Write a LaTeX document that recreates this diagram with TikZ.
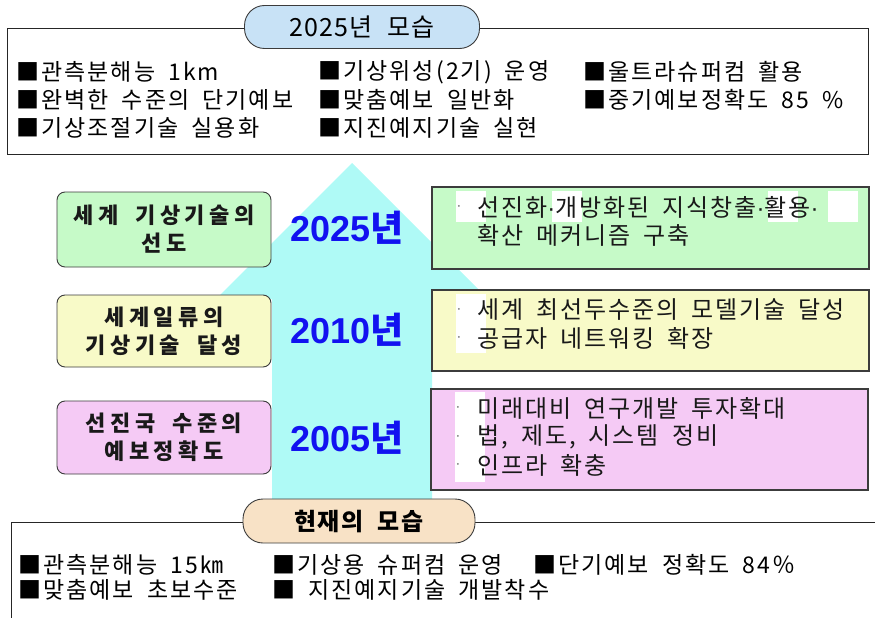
\documentclass[tikz,border=0pt]{standalone}
\usepackage{fontspec}
\setmainfont{Noto Sans CJK KR}
\newfontfamily\kr{Noto Sans CJK KR}
\newfontfamily\kritem[LetterSpace=9,WordSpace=1.8]{Noto Sans CJK KR}
\newfontfamily\krsp[LetterSpace=8,WordSpace=1.8]{Noto Sans CJK KR}
\newfontfamily\krlb[LetterSpace=20,WordSpace=1.8]{Noto Sans CJK KR}
\newfontfamily\krpill[LetterSpace=5,WordSpace=2.2]{Noto Sans CJK KR}
\newfontfamily\arialf{Liberation Sans}
\definecolor{arrowc}{RGB}{175,250,246}
\definecolor{gfill}{RGB}{198,250,200}
\definecolor{yfill}{RGB}{248,250,200}
\definecolor{pfill}{RGB}{245,202,245}
\definecolor{bluepill}{RGB}{200,226,246}
\definecolor{wheatpill}{RGB}{248,226,198}
\definecolor{yearblue}{RGB}{18,18,240}
\definecolor{edgec}{RGB}{60,60,60}
\definecolor{txt}{RGB}{25,25,25}
\newcommand{\mdot}{{\arialf ·}}
\tikzset{
  leftbox/.style={draw=edgec, line width=0.9pt, rounded corners=8pt, minimum width=214pt, align=center, text=txt, inner sep=0pt, font=\krlb\bfseries\fontsize{22}{28}\selectfont},
  rightbox/.style={draw=edgec, line width=1.2pt, inner sep=0pt},
  pill/.style={draw=edgec, line width=0.9pt, rounded corners=20pt, inner sep=0pt, text=black, font=\krpill\fontsize{25}{25}\selectfont},
  item/.style={anchor=west, inner sep=0pt, text=black, font=\kritem\fontsize{23}{23}\selectfont},
  rtext/.style={anchor=west, inner sep=0pt, text=txt, font=\krsp\fontsize{24}{24}\selectfont},
  bul/.style={anchor=center, inner sep=0pt, text=gray, font=\kr\fontsize{14}{14}\selectfont},
  year/.style={inner sep=0pt, text=yearblue, font=\bfseries\fontsize{36}{36}\selectfont},
  frame/.style={draw=black!85, line width=0.9pt}
}
\begin{document}
\begin{tikzpicture}[x=1pt,y=-1pt]
\useasboundingbox (0,0) rectangle (875,618);
% big arrow
\fill[arrowc] (352,163) -- (488,299) -- (432,299) -- (432,502) -- (272,502) -- (272,299) -- (216,299) -- cycle;
% top frame
\draw[frame] (7,28) rectangle (868,154);
\node[pill, fill=bluepill, minimum width=235pt, minimum height=43pt] (toppill) at (362,27) {2025년 모습};
\node[item] (t11) at (16,72) {■관측분해능 1km};
\node[item] (t12) at (318,72) {■기상위성(2기) 운영};
\node[item] (t13) at (583,72) {■울트라슈퍼컴 활용};
\node[item] (t21) at (16,100) {■완벽한 수준의 단기예보};
\node[item] (t22) at (318,100) {■맞춤예보 일반화};
\node[item] (t23) at (583,100) {■중기예보정확도 85 \%};
\node[item] (t31) at (16,128) {■기상조절기술 실용화};
\node[item] (t32) at (318,128) {■지진예지기술 실현};
% left boxes
\node[leftbox, fill=gfill, minimum height=75pt] (lg) at (164,229.5) {세계 기상기술의\\선도};
\node[leftbox, fill=yfill, minimum height=72pt] (ly) at (164,331) {세계일류의\\기상기술 달성};
\node[leftbox, fill=pfill, minimum height=73pt] (lp) at (164,437.5) {선진국 수준의\\예보정확도};
% years
\node[year] (y1) at (347,228) {\arialf 2025\kr 년};
\node[year] (y2) at (347,330) {\arialf 2010\kr 년};
\node[year] (y3) at (347,438) {\arialf 2005\kr 년};
% right boxes
\node[rightbox, fill=gfill, minimum width=437pt, minimum height=82pt] (rg) at (650.5,228) {};
\node[rightbox, fill=yfill, minimum width=437pt, minimum height=81pt] (ry) at (650.5,330.5) {};
\node[rightbox, fill=pfill, minimum width=437pt, minimum height=101pt] (rp) at (649.5,439.5) {};
% white patches
\fill[white] (456,191) rectangle (486,222);
\fill[white] (552,191) rectangle (582,222);
\fill[white] (768,191) rectangle (798,222);
\fill[white] (828,191) rectangle (858,222);
\fill[white] (456,294) rectangle (486,353);
\fill[white] (455,392) rectangle (485,482);
% right texts
\node[bul] (b1) at (459,208) {·};
\node[rtext] (g1) at (477,207) {선진화\mdot 개방화된 지식창출\mdot 활용\mdot};
\node[rtext] (g2) at (477,235) {확산 메커니즘 구축};
\node[bul] (b2) at (459,311) {·};
\node[bul] (b3) at (459,339) {·};
\node[rtext] (yy1) at (477,310) {세계 최선두수준의 모델기술 달성};
\node[rtext] (yy2) at (477,338) {공급자 네트워킹 확장};
\node[bul] (b4) at (458,409) {·};
\node[bul] (b5) at (458,438) {·};
\node[bul] (b6) at (458,466) {·};
\node[rtext] (p1) at (477,408) {미래대비 연구개발 투자확대};
\node[rtext] (p2) at (477,437) {법, 제도, 시스템 정비};
\node[rtext] (p3) at (477,465) {인프라 확충};
% bottom frame
\draw[frame] (11,618) -- (11,522) -- (875,522);
\node[pill, fill=wheatpill, minimum width=232pt, minimum height=44pt, font=\krpill\bfseries\fontsize{24}{24}\selectfont] (botpill) at (359,521) {현재의 모습};
\node[item] (s11) at (18,565) {■관측분해능 15㎞};
\node[item] (s12) at (272,565) {■기상용 슈퍼컴 운영};
\node[item] (s13) at (533,565) {■단기예보 정확도 84％};
\node[item] (s21) at (18,590) {■맞춤예보 초보수준};
\node[item] (s22) at (272,590) {■ 지진예지기술 개발착수};
\end{tikzpicture}
\end{document}
